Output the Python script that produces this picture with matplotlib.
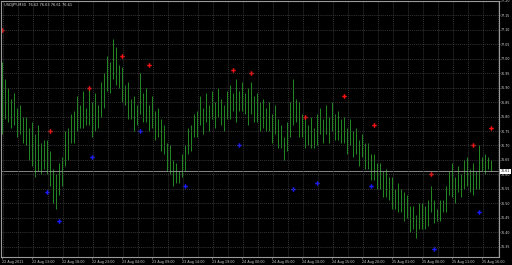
import numpy as np
import matplotlib
matplotlib.use("Agg")
import matplotlib.pyplot as plt

# USDJPY M30 bars (high / low)
highs = [
    76.99, 76.93, 76.90, 76.86, 76.88, 76.83, 76.84, 76.80,
    76.80, 76.76, 76.78, 76.74, 76.77, 76.71, 76.72,
    76.72, 76.68, 76.62, 76.60, 76.64,
    76.66, 76.75, 76.76, 76.81, 76.82,
    76.87, 76.84, 76.89, 76.83, 76.90, 76.85, 76.88, 76.84,
    76.92, 76.95, 77.01, 76.99, 77.07,
    77.04, 76.98, 76.97, 76.91, 76.92, 76.86, 76.87,
    76.84, 76.95, 76.88, 76.90, 76.84, 76.87, 76.82, 76.83,
    76.79, 76.77, 76.71, 76.70, 76.65, 76.64, 76.61,
    76.67, 76.70, 76.76, 76.77, 76.81, 76.82,
    76.87, 76.83, 76.88, 76.84, 76.89, 76.85, 76.90, 76.86, 76.84, 76.89,
    76.91, 76.88, 76.93, 76.89, 76.92, 76.88, 76.90, 76.92, 76.87, 76.88, 76.85,
    76.86, 76.83, 76.85, 76.81, 76.84, 76.79, 76.77, 76.73,
    76.78, 76.85, 76.93, 76.86, 76.85,
    76.81, 76.80, 76.77, 76.80, 76.76, 76.81, 76.83, 76.79,
    76.84, 76.80, 76.85, 76.81, 76.82, 76.79, 76.80, 76.76,
    76.79, 76.75, 76.76, 76.72, 76.74, 76.71, 76.71, 76.67, 76.67,
    76.64, 76.64, 76.61, 76.62, 76.59, 76.59, 76.55, 76.57, 76.55, 76.54,
    76.53, 76.49, 76.49, 76.46, 76.50, 76.50, 76.49, 76.51, 76.56,
    76.51, 76.48, 76.51, 76.51, 76.56,
    76.61, 76.64, 76.59, 76.63, 76.60, 76.65, 76.66, 76.62, 76.64, 76.61,
    76.70,
    76.66, 76.67, 76.66, 76.65,
]
lows = [
    76.74, 76.79, 76.78, 76.76, 76.77, 76.73, 76.74, 76.71,
    76.70, 76.65, 76.63, 76.59, 76.61, 76.60, 76.62,
    76.60, 76.56, 76.50, 76.48, 76.53,
    76.56, 76.63, 76.65, 76.71, 76.71,
    76.75, 76.76, 76.76, 76.77, 76.77, 76.73, 76.75, 76.76,
    76.80, 76.83, 76.89, 76.88, 76.93,
    76.91, 76.90, 76.85, 76.84, 76.79, 76.79, 76.75,
    76.77, 76.81, 76.78, 76.78, 76.75, 76.76, 76.72, 76.73,
    76.68, 76.67, 76.61, 76.60, 76.56, 76.57, 76.57,
    76.59, 76.61, 76.67, 76.68, 76.73, 76.73,
    76.77, 76.74, 76.78, 76.75, 76.79, 76.76, 76.80, 76.77, 76.75, 76.79,
    76.79, 76.82, 76.78, 76.82, 76.82, 76.81, 76.77, 76.81, 76.78, 76.78, 76.75,
    76.76, 76.75, 76.75, 76.71, 76.74, 76.69, 76.69, 76.65,
    76.68, 76.73, 76.77, 76.78, 76.73,
    76.73, 76.69, 76.70, 76.69, 76.69, 76.70, 76.74, 76.71,
    76.74, 76.71, 76.75, 76.72, 76.72, 76.71, 76.71, 76.67,
    76.70, 76.66, 76.67, 76.63, 76.66, 76.62, 76.62, 76.58, 76.58,
    76.55, 76.55, 76.52, 76.52, 76.51, 76.48, 76.48, 76.47, 76.47, 76.44,
    76.45, 76.40, 76.41, 76.38, 76.41, 76.41, 76.41, 76.42, 76.47,
    76.43, 76.44, 76.44, 76.47, 76.47,
    76.53, 76.52, 76.50, 76.54, 76.52, 76.55, 76.56, 76.54, 76.53, 76.55,
    76.55,
    76.61, 76.60, 76.62, 76.61,
]

# signal arrows (bar index, price)
sell_idx = [0, 16, 29, 40, 49, 77, 83, 101, 114, 124, 143, 157, 163]
sell_px = [77.10, 76.75, 76.90, 77.01, 76.98, 76.96, 76.95, 76.80, 76.87, 76.77, 76.60, 76.70, 76.76]
buy_idx = [15, 19, 30, 46, 61, 79, 97, 105, 123, 144, 159]
buy_px = [76.54, 76.44, 76.66, 76.75, 76.56, 76.70, 76.55, 76.57, 76.56, 76.34, 76.47]

last_price = 76.61
price_ticks = np.round(np.arange(76.35, 77.201, 0.05), 2)
time_labels = ["22 Aug 2011", "22 Aug 13:00", "22 Aug 18:00", "22 Aug 23:00",
               "23 Aug 04:00", "23 Aug 09:00", "23 Aug 14:00", "23 Aug 19:00",
               "24 Aug 00:00", "24 Aug 05:00", "24 Aug 10:00", "24 Aug 15:00",
               "24 Aug 20:00", "25 Aug 01:00", "25 Aug 06:00", "25 Aug 11:00",
               "25 Aug 16:00"]

fig = plt.figure(figsize=(5.12, 2.65), dpi=100, facecolor="black")
ax = fig.add_axes([1 / 512, 8 / 265, 498 / 512, 256 / 265], facecolor="black")

x = np.arange(len(highs))
ax.vlines(x, lows, highs, color="#238a23", lw=0.7)

ax.plot(sell_idx, sell_px, "P", color="#ff1010", ms=3.2, mew=0)
ax.plot(buy_idx, buy_px, "P", color="#1a1aff", ms=3.2, mew=0)

ax.axhline(last_price, color="#9a9a9a", lw=0.6)

ax.set_xlim(-0.33, 165.67)
ax.set_ylim(76.314, 77.20)

# grid
for gx in np.arange(0, 166, 5):
    ax.axvline(gx + 0.3, color="#474747", lw=0.5, ls=(0, (1.5, 1.5)))
for gy in price_ticks:
    ax.axhline(gy, color="#474747", lw=0.5, ls=(0, (1.5, 1.5)))

ax.yaxis.tick_right()
ax.set_yticks(price_ticks)
ax.set_yticklabels([f"{p:.2f}" for p in price_ticks], color="#dddddd", fontsize=2.3)
ax.tick_params(axis="y", length=1.0, width=0.4, color="#bbbbbb", pad=0.6)

ax.set_xticks(np.arange(0, 161, 10))
ax.set_xticklabels(time_labels, color="#cccccc", fontsize=2.4, ha="left")
ax.tick_params(axis="x", length=1.5, width=0.4, color="#bbbbbb", pad=1)

for s in ax.spines.values():
    s.set_color("#9a9a9a")
    s.set_linewidth(0.8)

ax.annotate(f"{last_price:.2f}", xy=(1.0, last_price), xycoords=("axes fraction", "data"),
            xytext=(1.2, 0), textcoords="offset points", fontsize=2.3, color="black",
            va="center", ha="left",
            bbox=dict(boxstyle="square,pad=0.15", fc="white", ec="none"))

ax.text(0.006, 0.994, "USDJPY,M30  76.62 76.63 76.61 76.61", transform=ax.transAxes,
        fontsize=2.6, color="#dddddd", va="top", ha="left")

fig.savefig("out.png", dpi=100, facecolor="black")
